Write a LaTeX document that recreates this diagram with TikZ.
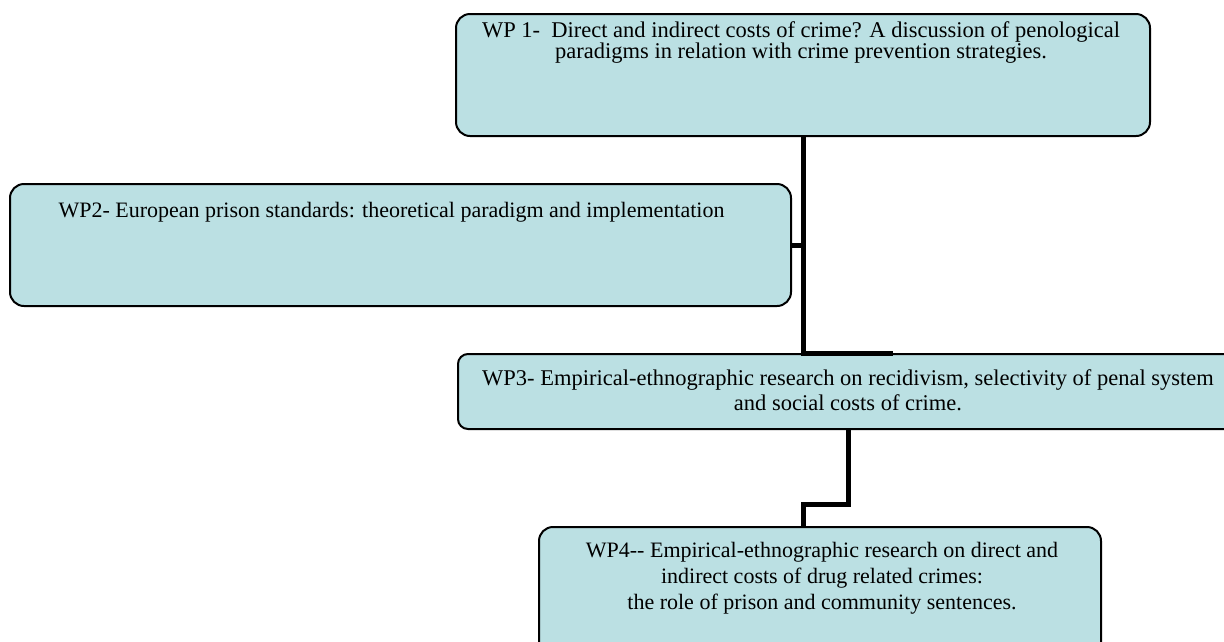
\documentclass[tikz,border=0pt]{standalone}
\usepackage{fontspec}
\setmainfont{Liberation Serif}
\usetikzlibrary{calc}
\definecolor{boxfill}{RGB}{187,224,227}
\begin{document}
\begin{tikzpicture}[x=1pt,y=-1pt,
  wpbox/.style={draw=black, line width=2pt, fill=boxfill, rounded corners=14pt, inner sep=0pt, anchor=north west},
  wptext/.style={inner sep=0pt, align=center, anchor=north},
  link/.style={draw=black, line width=5pt}
]
\useasboundingbox (0,0) rectangle (1224,641);
\clip (0,0) rectangle (1224,641);

\node[wpbox, minimum width=694pt, minimum height=122pt] (wp1) at (455,13) {};
\node[wpbox, minimum width=781pt, minimum height=122pt] (wp2) at (9,183) {};
\node[wpbox, minimum width=780pt, minimum height=75pt, rounded corners=10pt] (wp3) at (457,353) {};
\node[wpbox, minimum width=562pt, minimum height=130pt] (wp4) at (538,526) {};

\node[wptext, font=\fontsize{22.5}{21.5}\selectfont] (t1) at ($(wp1.north)+(-2,8)$)
  {WP 1-\ \ Direct and indirect costs of crime? A discussion of penological\\paradigms in relation with crime prevention strategies.};
\node[wptext, font=\fontsize{22}{24}\selectfont] (t2) at ($(wp2.north)+(-9,19)$)
  {WP2- European prison standards: theoretical paradigm and implementation};
\node[wptext, font=\fontsize{22.5}{25}\selectfont] (t3) at ($(wp3.north)+(0,16)$)
  {WP3- Empirical-ethnographic research on recidivism, selectivity of penal system\\and social costs of crime.};
\node[wptext, font=\fontsize{22}{26}\selectfont] (t4) at ($(wp4.north)+(2,16)$)
  {WP4-{}- Empirical-ethnographic research on direct and\\indirect costs of drug related crimes:\\the role of prison and community sentences.};

\coordinate (stub) at (893,353);
\coordinate (wp4in) at (803,526);
\draw[link] (wp1.south) |- (stub);
\draw[link] (wp2.east) -- (wp2.east -| wp1.south);
\draw[link] (wp3.south) -- ++(0,74) -| (wp4in);
\end{tikzpicture}
\end{document}
